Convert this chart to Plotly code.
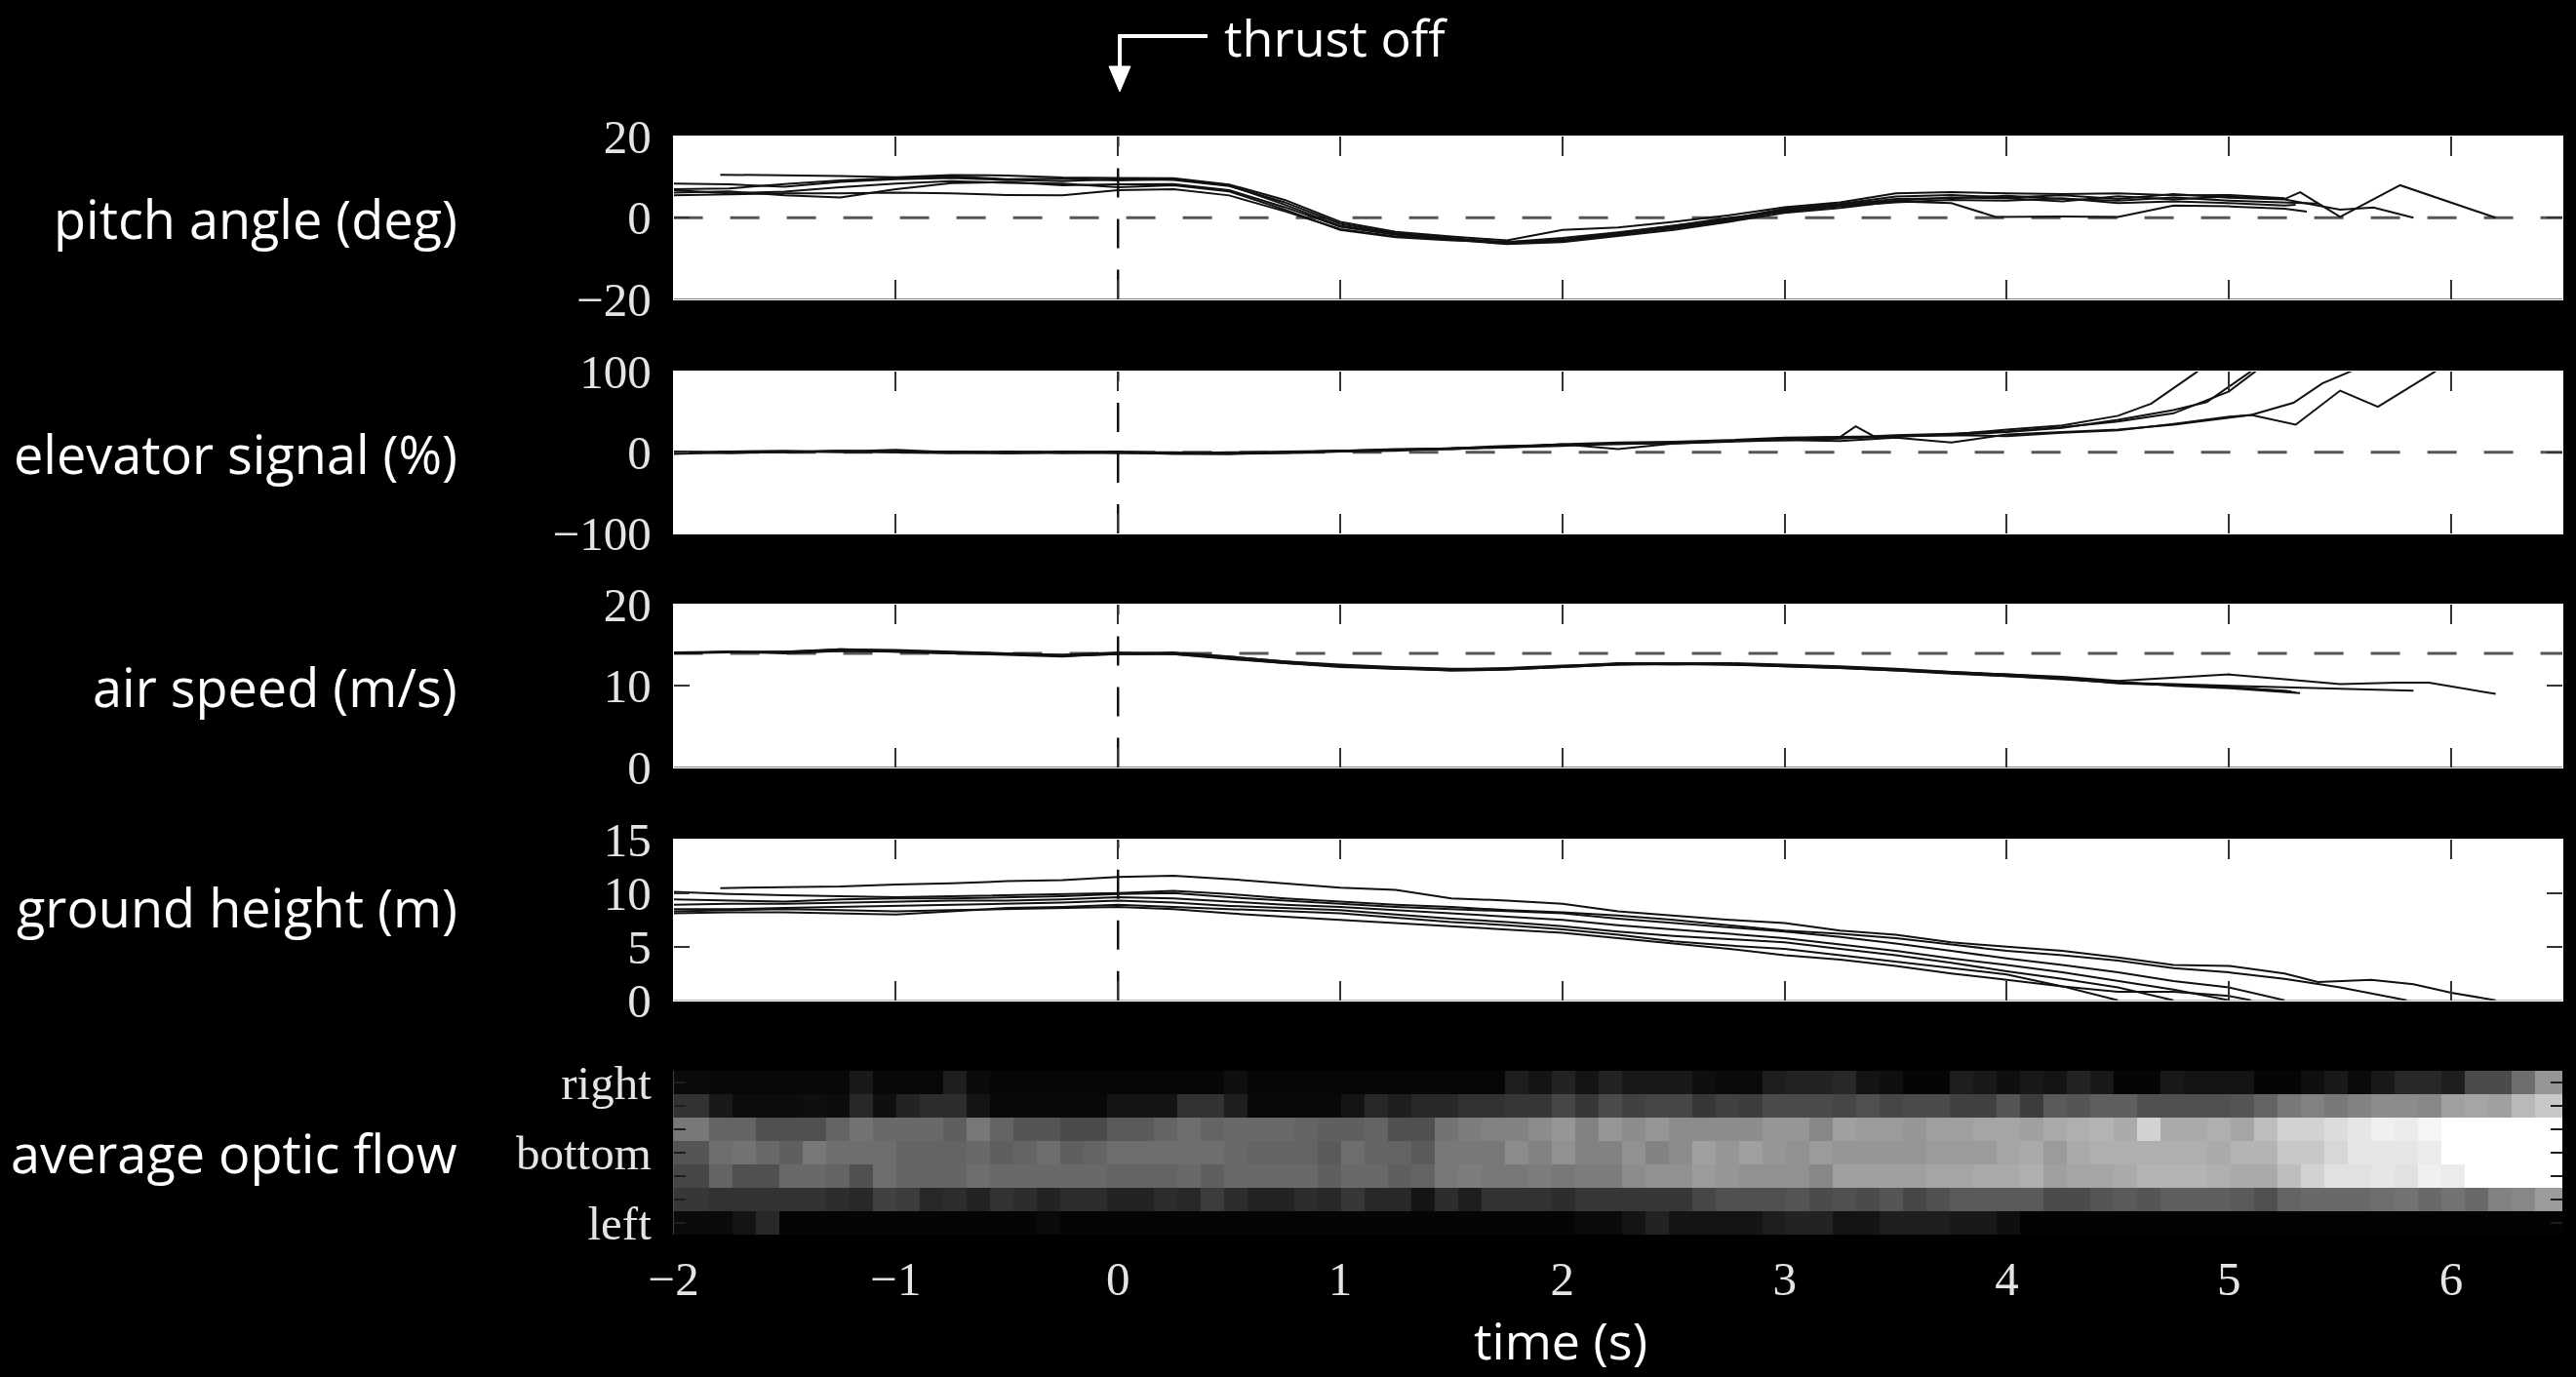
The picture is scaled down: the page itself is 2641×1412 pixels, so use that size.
import plotly.graph_objects as go

W, H = 2641, 1412

def px(x):
    return x / W

def py(y):
    return 1 - y / H

# ---------------- data ----------------
T25 = [-2.0, -1.75, -1.5, -1.25, -1.0, -0.75, -0.5, -0.25, 0.0, 0.25, 0.5, 0.75, 1.0, 1.25,
       1.5, 1.75, 2.0, 2.25, 2.5, 2.75, 3.0, 3.25, 3.5, 3.75, 4.0, 4.25, 4.5, 4.75, 5.0, 5.25]
TIME_TICKS = [-2, -1, 0, 1, 2, 3, 4, 5, 6]

# pitch angle (deg)
PITCH_A = [8.4, 8.2, 7.6, 8.8, 9.5, 9.8, 9.3, 9.0, 9.5, 9.3, 7.8, 3.8, -1.5, -3.8, -5.0, -6.2, -5.6, -4.2,
           -2.6, -0.8, 1.8, 3.0, 4.2, 5.0, 4.8, 4.0, 5.3, 4.5, 5.2, 4.6]
PITCH_A_TAIL_T = [5.32, 5.5, 5.77, 6.2]
PITCH_A_TAIL = [6.3, 0.2, 8.0, 0.0]
PITCH_B = [6.2, 6.5, 5.5, 5.0, 7.0, 8.5, 8.8, 8.0, 8.2, 8.3, 6.8, 2.6, -2.2, -4.2, -5.2, -6.0, -5.0, -3.6,
           -2.0, -0.3, 2.2, 3.4, 5.2, 5.6, 5.0, 5.5, 4.6, 5.8, 4.9, 4.5]
PITCH_B_TAIL_T = [5.5, 5.65, 5.83]
PITCH_B_TAIL = [2.0, 2.5, 0.0]
PITCH_C_T = [-1.79, -1.5, -1.25, -1.0, -0.75, -0.5, -0.25, 0.0, 0.25, 0.5, 0.75, 1.0, 1.25, 1.5, 1.75,
             2.0, 2.25, 2.5, 2.75, 3.0, 3.25, 3.5, 3.75, 4.0, 4.25, 4.5, 4.75, 5.0, 5.25]
PITCH_C = [10.6, 10.5, 10.3, 10.0, 10.5, 10.4, 9.9, 9.8, 9.7, 8.2, 4.4, -1.0, -3.5, -4.6, -5.6, -3.0, -2.4,
           -1.0, 0.6, 2.6, 3.8, 6.0, 6.3, 6.0, 5.8, 6.0, 5.5, 5.6, 4.8]
PITCH_D = [5.5, 5.7, 6.0, 6.0, 6.2, 6.0, 5.6, 5.5, 6.8, 7.0, 5.5, 1.6, -2.8, -4.6, -5.4, -6.5, -6.0, -4.5,
           -3.0, -1.0, 1.2, 2.4, 4.0, 3.6]
PITCH_D_TAIL_T = [3.95, 4.25, 4.5, 4.75, 5.0, 5.25, 5.35]
PITCH_D_TAIL = [0.2, 0.3, 0.2, 3.0, 2.8, 2.2, 1.5]
PITCH_E = [7.0, 7.2, 8.3, 9.2, 9.8, 10.2, 9.5, 9.6, 9.2, 9.5, 8.0, 3.2, -2.0, -4.0, -5.3, -6.3, -5.8, -4.0,
           -2.3, -0.5, 2.0, 3.2, 4.6, 4.8, 5.4, 4.6, 4.2, 5.0, 4.2, 3.8]
PITCH_E_TAIL_T = [5.4]
PITCH_E_TAIL = [3.5]
PITCH_F = [6.8, 6.0, 6.4, 7.5, 8.4, 9.0, 8.6, 8.4, 7.5, 8.0, 6.5, 2.0, -3.0, -4.8, -5.6, -6.0, -5.4, -3.8,
           -2.0, 0.0, 1.5, 2.8, 3.8, 4.4, 4.2, 4.8, 3.6, 4.0, 3.6, 3.0]
PITCH_F_TAIL_T = [5.3]
PITCH_F_TAIL = [3.2]

# elevator signal (%)
ELEV_1 = [-1, 1, 2, 0, 1, 0, -1, 0, 0, -1, -1, 0, 1, 3, 4, 7, 9, 10, 12, 14, 16, 18, 19, 22, 28, 33, 45]
ELEV_1_TAIL_T = [4.65, 4.86]
ELEV_1_TAIL = [60, 100]
ELEV_2 = [0, -1, 1, 2, 0, 1, 0, -1, 0, -2, -2, -1, 1, 2, 5, 6, 8, 11, 11, 13, 15, 17, 20, 21, 25, 30, 40, 52]
ELEV_2_TAIL_T = [4.9, 5.1]
ELEV_2_TAIL = [62, 100]
ELEV_3 = [1, 0, 0, 1, 3, 0, 1, 0, -1, -1, -2, 0, 2, 3, 4, 6, 10, 4, 11, 14, 15, 14, 18, 12, 22, 25, 28, 34, 42]
ELEV_3_TAIL_T = [5.1, 5.3, 5.5, 5.67, 5.93]
ELEV_3_TAIL = [46, 34, 76, 56, 100]
ELEV_4 = [-2, 0, 1, 1, 0, -1, 0, 1, 0, 0, -1, 1, 2, 4, 5, 8, 9, 11, 12, 14, 17, 19, 20, 21, 20, 24, 27, 35, 44]
ELEV_4_TAIL_T = [5.1, 5.29, 5.42, 5.55]
ELEV_4_TAIL = [46, 61, 85, 100]
ELEV_5 = [-1, 1, 0, 2, 1, 0, -1, 0, 1, -1, 0, 0, 2, 3, 5, 7, 10, 12, 13, 15, 18, 19]
ELEV_5_TAIL_T = [3.32, 3.4, 3.5, 3.75, 4.0, 4.25, 4.5, 4.75, 5.0, 5.12]
ELEV_5_TAIL = [32, 20, 21, 23, 26, 31, 38, 48, 75, 100]

# air speed (m/s)
AIR_1 = [14.1, 14.2, 14.2, 14.5, 14.3, 14.1, 14.0, 13.8, 14.0, 14.1, 13.6, 13.0, 12.6, 12.3, 12.1, 12.1,
         12.4, 12.8, 12.8, 12.8, 12.6, 12.4, 12.1, 11.7, 11.4, 11.1, 10.6, 11.0, 11.4, 10.8]
AIR_1_TAIL_T = [5.5, 5.75, 5.9, 6.2]
AIR_1_TAIL = [10.2, 10.4, 10.4, 9.0]
AIR_2 = [14.0, 14.1, 14.1, 14.3, 14.2, 14.0, 13.9, 13.7, 13.9, 13.9, 13.4, 12.8, 12.4, 12.1, 11.9, 12.0,
         12.3, 12.6, 12.7, 12.6, 12.4, 12.2, 11.9, 11.5, 11.2, 10.8, 10.4, 10.2, 10.0, 9.8]
AIR_2_TAIL_T = [5.5, 5.83]
AIR_2_TAIL = [9.6, 9.4]
AIR_3 = [14.0, 14.2, 14.0, 14.3, 14.3, 14.1, 13.8, 13.6, 14.0, 14.0, 13.5, 12.9, 12.5, 12.2, 12.0, 12.1,
         12.4, 12.7, 12.6, 12.7, 12.5, 12.3, 12.0, 11.6, 11.2, 10.9, 10.3, 10.1, 9.9, 9.3]
AIR_3_TAIL_T = [5.3]
AIR_3_TAIL = [9.2]
AIR_4 = [14.1, 14.1, 14.2, 14.4, 14.2, 14.0, 13.9, 13.8, 14.1, 13.9, 13.3, 12.8, 12.3, 12.1, 12.0, 12.2,
         12.5, 12.7, 12.8, 12.7, 12.4, 12.2, 11.9, 11.6, 11.3, 10.9, 10.4, 10.1, 9.8, 9.4]
AIR_4_TAIL_T = [5.28]
AIR_4_TAIL = [9.3]
AIR_5 = [14.0, 14.2, 14.1, 14.5, 14.4, 14.2, 14.0, 13.7, 13.9, 14.0, 13.6, 13.0, 12.5, 12.2, 11.9, 12.0,
         12.3, 12.6, 12.7, 12.6, 12.5, 12.3, 12.0, 11.7, 11.4, 11.0, 10.5, 10.0, 9.7, 9.2]
AIR_5_TAIL_T = [5.32]
AIR_5_TAIL = [9.1]

# ground height (m)
GROUND_1_T = [-1.79, -1.5, -1.25, -1.0, -0.75, -0.5, -0.25, 0.0, 0.25, 0.5, 0.75, 1.0, 1.25, 1.5, 1.75,
              2.0, 2.25, 2.5, 2.75, 3.0, 3.25, 3.5, 3.75, 4.0, 4.25, 4.5, 4.75, 5.0, 5.25,
              5.4, 5.64, 5.83, 6.0, 6.2]
GROUND_1 = [10.46, 10.5, 10.6, 10.8, 10.9, 11.1, 11.2, 11.5, 11.6, 11.3, 10.9, 10.5, 10.3, 9.5, 9.3,
            9.0, 8.3, 7.9, 7.5, 7.2, 6.5, 6.1, 5.4, 5.0, 4.6, 4.0, 3.3, 3.2, 2.5,
            1.7, 1.9, 1.5, 0.7, 0.0]
GROUND_2 = [10.1, 9.9, 9.8, 9.7, 9.6, 9.7, 9.8, 9.9, 10.0, 10.2, 9.9, 9.5, 9.2, 8.9, 8.7, 8.4, 8.2, 7.9,
            7.5, 7.0, 6.5, 6.2, 5.8, 5.2, 4.6, 4.2, 3.7, 3.0, 2.6, 2.0]
GROUND_2_TAIL_T = [5.5, 5.8]
GROUND_2_TAIL = [1.2, 0.0]
GROUND_3 = [9.4, 9.3, 9.2, 9.4, 9.5, 9.5, 9.6, 9.7, 9.9, 10.0, 9.6, 9.3, 9.0, 8.7, 8.5, 8.3, 8.1, 7.6,
            7.2, 6.8, 6.4, 5.9, 5.3, 4.6, 3.9, 3.3, 2.6, 1.8, 1.2, 0.0]
GROUND_4 = [8.9, 9.0, 9.0, 9.1, 9.2, 9.3, 9.3, 9.4, 9.6, 9.5, 9.2, 8.9, 8.7, 8.4, 8.1, 7.8, 7.5, 7.0,
            6.6, 6.2, 5.8, 5.2, 4.6, 3.9, 3.3, 2.6, 1.8, 1.0, 0.0]
GROUND_5 = [8.5, 8.5, 8.6, 8.7, 8.8, 8.9, 9.0, 9.1, 9.3, 9.1, 8.8, 8.6, 8.4, 8.0, 7.6, 7.3, 6.9, 6.4,
            6.0, 5.7, 5.4, 4.8, 4.2, 3.5, 2.7, 2.0, 1.2, 0.0]
GROUND_6 = [8.1, 8.2, 8.2, 8.1, 8.0, 8.3, 8.6, 8.7, 8.9, 8.7, 8.5, 8.3, 8.1, 7.7, 7.3, 7.0, 6.6, 6.1,
            5.5, 5.1, 4.8, 4.2, 3.6, 3.0, 2.4, 1.3, 0.0]
GROUND_7 = [8.3, 8.4, 8.5, 8.4, 8.3, 8.4, 8.5, 8.6, 8.7, 8.5, 8.1, 7.8, 7.5, 7.2, 6.9, 6.6, 6.3, 5.8,
            5.3, 4.8, 4.2, 3.8, 3.2, 2.5, 1.9, 1.3, 0.8, 0.8, 0.4]
GROUND_7_TAIL_T = [5.1]
GROUND_7_TAIL = [0.0]

# average optic flow (grey level 0-255), rows top (right) to bottom (left)
FLOW_DT = 0.10536
FLOW_ROWS = [1, 2, 3, 4, 5, 6, 7]
FLOW_ROW_LABELS = ["right", "", "", "bottom", "", "", "left"]
FLOW_R1 = [10, 10, 8, 8, 8, 8, 8, 8, 25, 8, 8, 8, 30, 10, 6, 6, 6, 6, 6, 6, 6, 6, 6, 6, 15, 6, 6, 6, 6, 6,
           6, 6, 6, 6, 6, 6, 30, 20, 35, 20, 35,
           25, 25, 25, 15, 10, 10, 30, 35, 35, 40, 20, 15, 5, 5, 30, 25, 15, 25, 20, 35, 25, 5, 5, 25, 20,
           20, 20, 5, 5, 15, 25, 10, 25, 40, 40, 30, 75, 75, 110, 150, 150]
FLOW_R2 = [50, 50, 25, 12, 12, 12, 15, 12, 40, 15, 35, 45, 45, 20, 8, 8, 8, 8, 8, 20, 20, 20, 50, 50, 30,
           8, 8, 8, 8, 20, 40, 30, 40, 40, 50, 50, 55, 55, 70, 55, 75,
           65, 70, 70, 55, 65, 60, 75, 75, 75, 70, 80, 70, 75, 75, 65, 65, 85, 60, 90, 85, 95, 95, 80, 80,
           80, 80, 85, 100, 120, 130, 120, 130, 140, 140, 135, 160, 165, 160, 185, 200, 200]
FLOW_R3 = [120, 120, 100, 100, 80, 80, 80, 100, 115, 105, 105, 105, 95, 120, 100, 85, 85, 75, 75, 90, 90,
           100, 110, 100, 105, 105, 105, 100, 95, 95, 100, 80, 80, 115, 125, 130, 130, 140, 150, 130, 150,
           140, 150, 140, 140, 140, 140, 150, 150, 135, 160, 155, 155, 150, 160, 160, 165, 165, 160, 170,
           175, 180, 170, 210, 170, 170, 175, 165, 190, 210, 210, 220, 230, 240, 235, 245, 255, 255, 255,
           255, 255, 255]
FLOW_R4 = [85, 85, 110, 115, 105, 95, 120, 110, 110, 110, 100, 100, 100, 105, 95, 100, 110, 95, 100, 110,
           110, 110, 110, 110, 105, 100, 100, 100, 90, 110, 100, 100, 90, 120, 120, 120, 140, 130, 145,
           130, 130,
           145, 130, 140, 160, 150, 160, 150, 145, 155, 150, 150, 150, 150, 155, 155, 155, 165, 170, 155,
           170, 175, 175, 175, 175, 175, 170, 180, 180, 200, 200, 215, 230, 230, 230, 235, 255, 255, 255,
           255, 255, 255]
FLOW_R5 = [70, 70, 100, 80, 80, 105, 105, 100, 80, 110, 100, 100, 100, 110, 105, 105, 105, 105, 105, 100,
           100, 100, 105, 95, 105, 105, 105, 105, 95, 105, 105, 95, 100, 120, 125, 120, 120, 125, 120, 125,
           125,
           140, 145, 145, 155, 150, 145, 145, 145, 135, 160, 160, 160, 160, 165, 165, 170, 170, 175, 160,
           165, 165, 170, 180, 180, 180, 175, 170, 170, 190, 210, 225, 225, 230, 225, 240, 235, 255, 255,
           255, 255, 255]
FLOW_R6 = [55, 55, 50, 50, 50, 50, 50, 45, 40, 65, 60, 40, 45, 35, 50, 45, 35, 45, 45, 35, 35, 45, 40, 60,
           45, 35, 35, 45, 40, 55, 40, 40, 20, 45, 30, 50, 50, 50, 45, 55, 55,
           55, 55, 55, 70, 80, 80, 80, 85, 75, 80, 75, 85, 70, 80, 90, 90, 90, 90, 75, 75, 85, 90, 85, 95,
           95, 95, 90, 80, 100, 105, 105, 105, 110, 115, 105, 115, 105, 130, 135, 155, 155]
FLOW_R7 = [10, 10, 10, 20, 40, 5, 5, 5, 5, 5, 5, 5, 5, 5, 5, 5, 10, 5, 5, 5, 5, 5, 5, 5, 5, 5, 5, 5, 5, 5,
           5, 5, 5, 5, 5, 5, 5, 5, 5, 10, 10,
           20, 35, 20, 20, 20, 20, 30, 35, 35, 20, 20, 30, 30, 30, 25, 25, 15, 3, 3, 3, 3, 3, 3, 3, 3, 3,
           3, 3, 3, 3, 3, 3, 3, 3, 3, 3, 3, 3, 3, 3, 3]

# ---------------- figure ----------------
fig = go.Figure()

def add_line(t, v, n):
    fig.add_trace(go.Scatter(
        x=t, y=v, mode="lines", line=dict(color="#111111", width=2),
        xaxis="x" if n == 1 else f"x{n}", yaxis="y" if n == 1 else f"y{n}",
        showlegend=False, hoverinfo="skip"))

add_line(T25 + PITCH_A_TAIL_T, PITCH_A + PITCH_A_TAIL, 1)
add_line(T25 + PITCH_B_TAIL_T, PITCH_B + PITCH_B_TAIL, 1)
add_line(PITCH_C_T, PITCH_C, 1)
add_line(T25[:len(PITCH_D)] + PITCH_D_TAIL_T, PITCH_D + PITCH_D_TAIL, 1)
add_line(T25 + PITCH_E_TAIL_T, PITCH_E + PITCH_E_TAIL, 1)
add_line(T25 + PITCH_F_TAIL_T, PITCH_F + PITCH_F_TAIL, 1)

for vals, tt, tv in [(ELEV_1, ELEV_1_TAIL_T, ELEV_1_TAIL), (ELEV_2, ELEV_2_TAIL_T, ELEV_2_TAIL),
                     (ELEV_3, ELEV_3_TAIL_T, ELEV_3_TAIL), (ELEV_4, ELEV_4_TAIL_T, ELEV_4_TAIL),
                     (ELEV_5, ELEV_5_TAIL_T, ELEV_5_TAIL)]:
    add_line(T25[:len(vals)] + tt, vals + tv, 2)

for vals, tt, tv in [(AIR_1, AIR_1_TAIL_T, AIR_1_TAIL), (AIR_2, AIR_2_TAIL_T, AIR_2_TAIL),
                     (AIR_3, AIR_3_TAIL_T, AIR_3_TAIL), (AIR_4, AIR_4_TAIL_T, AIR_4_TAIL),
                     (AIR_5, AIR_5_TAIL_T, AIR_5_TAIL)]:
    add_line(T25[:len(vals)] + tt, vals + tv, 3)

add_line(GROUND_1_T, GROUND_1, 4)
add_line(T25 + GROUND_2_TAIL_T, GROUND_2 + GROUND_2_TAIL, 4)
add_line(T25[:len(GROUND_3)], GROUND_3, 4)
add_line(T25[:len(GROUND_4)], GROUND_4, 4)
add_line(T25[:len(GROUND_5)], GROUND_5, 4)
add_line(T25[:len(GROUND_6)], GROUND_6, 4)
add_line(T25[:len(GROUND_7)] + GROUND_7_TAIL_T, GROUND_7 + GROUND_7_TAIL, 4)

flow_z = [FLOW_R1, FLOW_R2, FLOW_R3, FLOW_R4, FLOW_R5, FLOW_R6, FLOW_R7]
flow_x = [-2 + k * FLOW_DT for k in range(len(FLOW_R1))]
fig.add_trace(go.Heatmap(
    x=flow_x, y=FLOW_ROWS, z=flow_z, xaxis="x5", yaxis="y5",
    colorscale=[[0, "black"], [1, "white"]], zmin=0, zmax=255,
    showscale=False, hoverinfo="skip"))

# ---------------- layout ----------------
XL, XR = px(690.6), px(2627)
panels = [
    (py(306.5), py(140), [-20, 20], [-20, 0, 20]),
    (py(547), py(380.6), [-100, 100], [-100, 0, 100]),
    (py(786.5), py(620), [0, 20], [0, 10, 20]),
    (py(1025.7), py(860.7), [0, 15], [0, 5, 10, 15]),
]
SERIF = "Liberation Serif"
SANS = "Open Sans"
TICKCOL = "#e4e4e4"

layout = dict(
    width=W, height=H, autosize=False,
    margin=dict(l=0, r=0, t=0, b=0, pad=0, autoexpand=False),
    paper_bgcolor="black", plot_bgcolor="white",
    showlegend=False,
)
for i, (b, t, rng, tv) in enumerate(panels, start=1):
    sx = "" if i == 1 else str(i)
    layout[f"xaxis{sx}"] = dict(
        domain=[XL, XR], anchor=f"y{sx}", range=[-2, 6.5], tickvals=TIME_TICKS,
        ticks="inside", ticklen=20, tickwidth=2, tickcolor="#333333",
        showticklabels=False, showgrid=False, zeroline=False, automargin=False,
        showline=True, linecolor="white", linewidth=1, mirror="ticks")
    layout[f"yaxis{sx}"] = dict(
        domain=[b, t], anchor=f"x{sx}", range=rng, tickvals=tv,
        ticks="inside", ticklen=16, tickwidth=2, tickcolor="#333333", automargin=False,
        showgrid=False, zeroline=False, showline=True, linecolor="white", linewidth=1,
        mirror="ticks", tickfont=dict(family=SERIF, size=49, color=TICKCOL),
        ticklabelstandoff=12)

layout["xaxis5"] = dict(
    domain=[XL, XR], anchor="y5", range=[-2, 6.5], tickvals=TIME_TICKS, automargin=False,
    ticks="", showgrid=False, zeroline=False, showline=False,
    tickfont=dict(family=SERIF, size=49, color=TICKCOL), ticklabelstandoff=12)
layout["yaxis5"] = dict(
    domain=[py(1266), py(1098)], anchor="x5", range=[7.5, 0.5], automargin=False,
    tickvals=FLOW_ROWS, ticktext=FLOW_ROW_LABELS,
    ticks="inside", ticklen=12, tickwidth=2, tickcolor="#1e1e1e",
    showgrid=False, zeroline=False, showline=True, linecolor="rgba(0,0,0,0)", mirror="ticks",
    tickfont=dict(family=SERIF, size=49, color=TICKCOL), ticklabelstandoff=12)

shapes = []
# vertical dashed line at thrust off (t = 0)
for i in range(1, 5):
    sx = "" if i == 1 else str(i)
    shapes.append(dict(type="line", xref=f"x{sx}", yref=f"y{sx} domain", x0=0, x1=0, y0=0, y1=1,
                       line=dict(color="#111111", width=2.5, dash="30px,22px"), layer="below"))
# horizontal reference lines
for i, yv in [(1, 0), (2, 0), (3, 14)]:
    sx = "" if i == 1 else str(i)
    shapes.append(dict(type="line", xref=f"x{sx} domain", yref=f"y{sx}", x0=0, x1=1, y0=yv, y1=yv,
                       line=dict(color="#555555", width=3, dash="30px,28px"), layer="below"))
# thrust-off arrow
shapes.append(dict(type="line", xref="paper", yref="paper", x0=px(1238), x1=px(1146.5), y0=py(37), y1=py(37),
                   line=dict(color="white", width=4)))
shapes.append(dict(type="line", xref="paper", yref="paper", x0=px(1148), x1=px(1148), y0=py(35.5), y1=py(72),
                   line=dict(color="white", width=4)))
shapes.append(dict(type="path", xref="paper", yref="paper",
                   path=f"M {px(1137)},{py(68)} L {px(1159)},{py(68)} L {px(1148)},{py(94)} Z",
                   fillcolor="white", line=dict(color="white", width=1)))
layout["shapes"] = shapes

annotations = []
row_labels = [("pitch angle (deg)", 224), ("elevator signal (%)", 465), ("air speed (m/s)", 704),
              ("ground height (m)", 930), ("average optic flow", 1182)]
for txt, yy in row_labels:
    annotations.append(dict(text=txt, x=px(471), y=py(yy), xref="paper", yref="paper",
                            xanchor="right", yanchor="middle", showarrow=False,
                            font=dict(family=SANS, size=54, color="white")))
annotations.append(dict(text="thrust off", x=px(1253), y=py(37), xref="paper", yref="paper",
                        xanchor="left", yanchor="middle", showarrow=False,
                        font=dict(family=SANS, size=52, color="white")))
annotations.append(dict(text="time (s)", x=px(1600), y=py(1373), xref="paper", yref="paper",
                        xanchor="center", yanchor="middle", showarrow=False,
                        font=dict(family=SANS, size=52, color="white")))
layout["annotations"] = annotations

fig.update_layout(**layout)
fig.write_html("out.html")
